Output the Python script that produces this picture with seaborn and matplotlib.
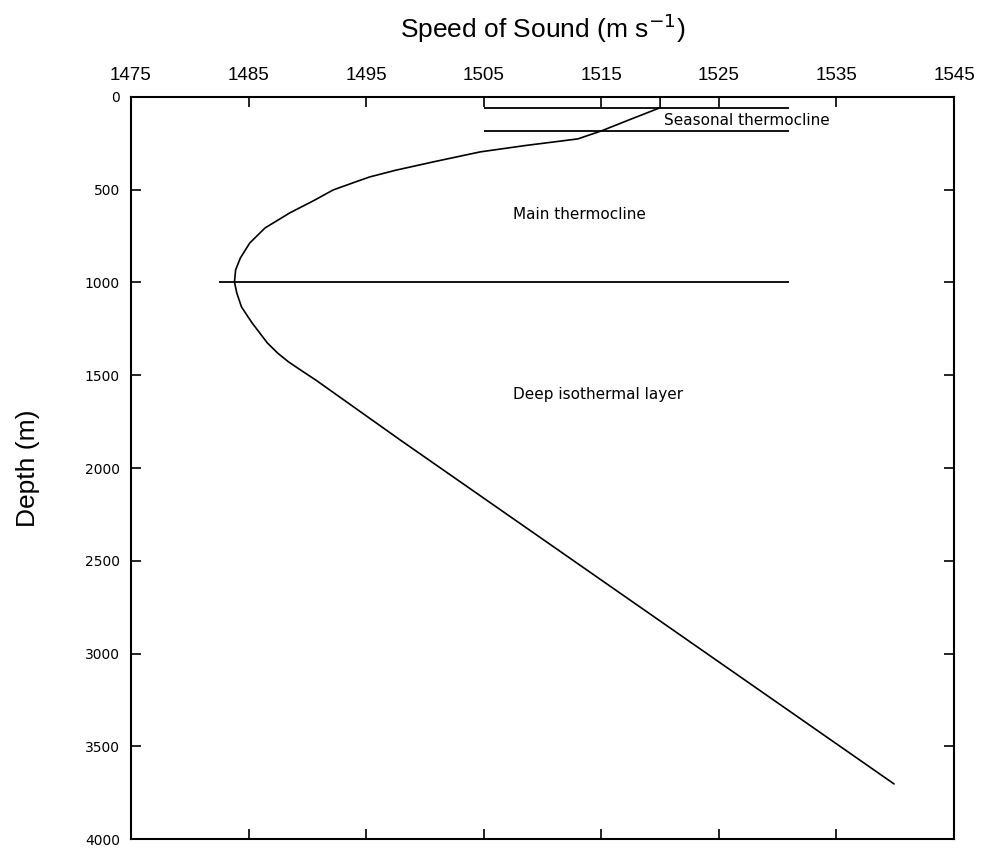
import matplotlib
matplotlib.use("Agg")
import matplotlib.pyplot as plt
import seaborn as sns
import pandas as pd

# Sound-speed profile (m/s) against depth (m)
speed = [1520.0, 1520.0, 1517.5, 1515.0, 1513.0, 1508.5, 1504.7, 1500.7, 1497.5,
         1495.3, 1494.0, 1492.2, 1490.5, 1488.5, 1486.4, 1485.1, 1484.3, 1483.9,
         1483.8, 1484.0, 1484.4, 1485.3, 1486.6, 1487.5, 1488.4, 1489.5, 1490.7,
         1497.9, 1539.9]
depth = [0, 58, 120, 183, 226, 262, 296, 350, 395,
         431, 460, 501, 560, 625, 706, 787, 868, 932,
         997, 1057, 1132, 1218, 1326, 1382, 1428, 1475, 1525,
         1849, 3703]

# Layer boundaries: depth, start speed, end speed
boundary_depth = [58, 183, 1000]
boundary_start = [1505, 1505, 1482.5]
boundary_end = [1531, 1531, 1531]

# Layer names and where they sit (speed, depth)
layer_names = ["Seasonal thermocline", "Main thermocline", "Deep isothermal layer"]
layer_x = [1520.3, 1507.5, 1507.5]
layer_y = [129, 631, 1606]

x_ticks = [1475, 1485, 1495, 1505, 1515, 1525, 1535, 1545]
y_ticks = [0, 500, 1000, 1500, 2000, 2500, 3000, 3500, 4000]

sns.set_theme(style="white")
plt.rcParams["font.family"] = ["Liberation Sans", "DejaVu Sans"]
plt.rcParams["text.color"] = "black"
plt.rcParams["axes.labelcolor"] = "black"
plt.rcParams["xtick.color"] = "black"
plt.rcParams["ytick.color"] = "black"

profile = pd.DataFrame({"speed": speed, "depth": depth})

fig = plt.figure(figsize=(9.82, 8.5), dpi=100)
ax = fig.add_axes([0.1334, 0.0129, 0.8381, 0.8730])

sns.lineplot(data=profile, x="speed", y="depth", sort=False, estimator=None,
             color="black", linewidth=1.2, ax=ax)

for d, x0, x1 in zip(boundary_depth, boundary_start, boundary_end):
    ax.hlines(d, x0, x1, color="black", linewidth=1.3)

for name, x, y in zip(layer_names, layer_x, layer_y):
    ax.text(x, y, name, fontsize=11, family="DejaVu Sans", va="center",
            ha="left", color="black")

ax.set_xlim(1475, 1545)
ax.set_ylim(4000, 0)
ax.set_xticks(x_ticks)
ax.set_yticks(y_ticks)
ax.xaxis.set_ticks_position("top")
ax.xaxis.set_label_position("top")
ax.tick_params(axis="both", which="both", direction="in", length=7, width=1.2,
               color="black", top=True, bottom=True, left=True, right=True,
               labeltop=True, labelbottom=False, labelleft=True, labelright=False)
ax.tick_params(axis="x", labelsize=13.5, pad=9, labelcolor="black")
ax.tick_params(axis="y", labelsize=10, pad=8, labelcolor="black")
for lab in ax.get_yticklabels():
    lab.set_family("DejaVu Sans")

for sp in ax.spines.values():
    sp.set_visible(True)
    sp.set_color("black")
    sp.set_linewidth(1.5)

ax.set_xlabel("Speed of Sound (m s$^{-1}$)", fontsize=19, labelpad=21)
ax.set_ylabel("Depth (m)", fontsize=19, labelpad=32)
ax.grid(False)

fig.savefig("out.png", dpi=100, facecolor="white")
